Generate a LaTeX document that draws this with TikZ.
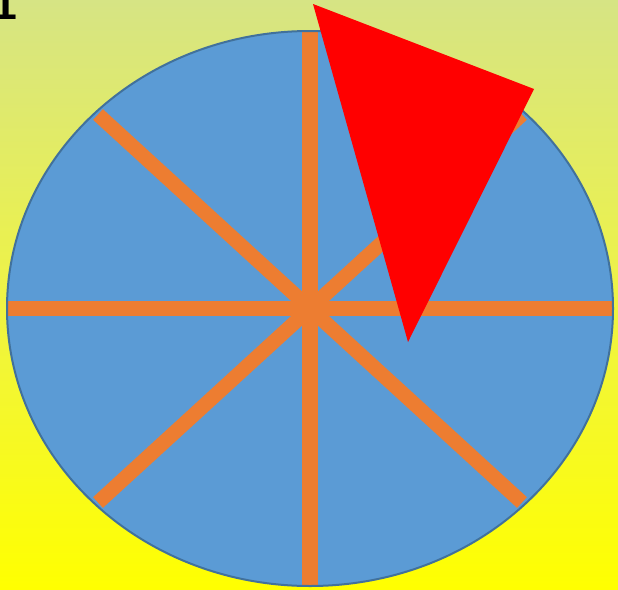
\documentclass[tikz,border=0pt]{standalone}
\usepackage{fontspec}
\usetikzlibrary{calc}
\newfontfamily\monofont{Liberation Mono}
\definecolor{bgtop}{RGB}{214,228,132}
\definecolor{bgbot}{RGB}{255,255,0}
\definecolor{wheelfill}{RGB}{91,155,213}
\definecolor{wheeledge}{RGB}{65,113,156}
\definecolor{spokec}{RGB}{237,125,49}
\definecolor{pointer}{RGB}{255,0,0}
\tikzset{
  spoke/.style={draw=spokec, line width=15.5pt, line cap=butt},
  dspoke/.style={draw=spokec, line width=14.5pt, line cap=butt},
  wheel/.style={fill=wheelfill},
  rim/.style={draw=wheeledge, line width=2pt},
  pointershape/.style={fill=pointer},
}
\begin{document}
\begin{tikzpicture}[x=1pt,y=-1pt]
\useasboundingbox (0,0) rectangle (618,589);
\shade[top color=bgtop, bottom color=bgbot, middle color={rgb,255:red,238;green,243;blue,70}] (0,0) rectangle (618,589);
\coordinate (c) at (310,308.5);
\path[wheel] (c) ellipse [x radius=303, y radius=277.5];
\begin{scope}
\clip (c) ellipse [x radius=303, y radius=277.5];
\draw[spoke] (310,20) -- (310,600);
\draw[spoke] (0,308.5) -- (620,308.5);
\draw[dspoke] ($(c)+(-212,-194)$) -- ($(c)+(212,194)$);
\draw[dspoke] ($(c)+(-212,194)$) -- ($(c)+(212,-194)$);
\end{scope}
\draw[rim] (c) ellipse [x radius=303, y radius=277.5];
\coordinate (p1) at (313,4);
\coordinate (p2) at (534,89);
\coordinate (p3) at (408,342);
\path[pointershape] (p1) -- (p2) -- (p3) -- cycle;
\node[anchor=base, inner sep=0pt, font=\monofont\bfseries\fontsize{44}{44}\selectfont] (one) at (4.5,19) {1};
\end{tikzpicture}
\end{document}
